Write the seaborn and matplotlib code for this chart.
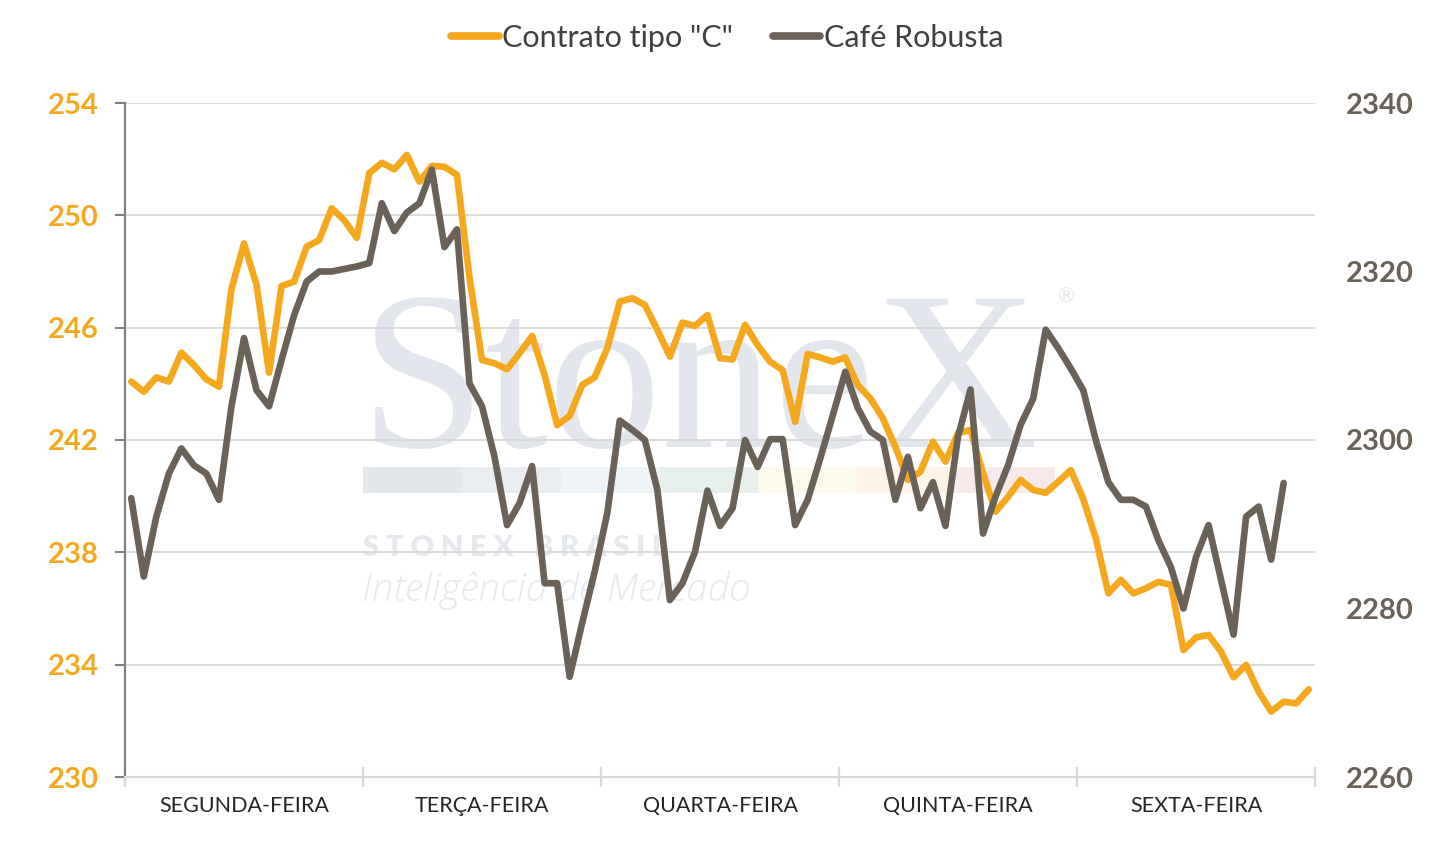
import numpy as np
import pandas as pd
import seaborn as sns
import matplotlib
matplotlib.use("Agg")
import matplotlib.pyplot as plt
from matplotlib.patches import Rectangle
from matplotlib.lines import Line2D

# ---------------- data ----------------
days = ["SEGUNDA-FEIRA", "TERÇA-FEIRA", "QUARTA-FEIRA", "QUINTA-FEIRA", "SEXTA-FEIRA"]
points_per_day = 19

contrato_c = [
    244.08, 243.72, 244.23, 244.08, 245.11, 244.67, 244.16, 243.90, 247.37, 249.00,
    247.52, 244.40, 247.48, 247.64, 248.88, 249.12, 250.25, 249.83, 249.20,
    251.50, 251.87, 251.64, 252.15, 251.20, 251.76, 251.73, 251.44, 247.80, 244.85,
    244.73, 244.52, 245.09, 245.70, 244.31, 242.53, 242.86, 243.96, 244.23,
    245.27, 246.93, 247.05, 246.81, 245.92, 244.97, 246.18, 246.06, 246.45, 244.91,
    244.87, 246.10, 245.38, 244.79, 244.49, 242.65, 245.06, 244.94, 244.79,
    244.94, 243.96, 243.48, 242.77, 241.76, 240.58, 240.87, 241.94, 241.23, 242.24,
    242.36, 240.81, 239.45, 239.98, 240.58, 240.22, 240.12, 240.51, 240.93,
    239.90, 238.50, 236.54, 237.02, 236.54, 236.72, 236.95, 236.84, 234.52, 234.97,
    235.06, 234.46, 233.55, 233.99, 233.04, 232.33, 232.68, 232.62, 233.12,
]

cafe_robusta = [
    2293.1, 2283.8, 2290.9, 2296.0, 2299.0, 2297.0, 2296.0, 2292.9, 2304.0, 2312.1,
    2305.9, 2304.0, 2309.5, 2314.8, 2318.8, 2320.0, 2320.0, 2320.3, 2320.6,
    2321.0, 2328.1, 2324.8, 2327.0, 2328.1, 2332.1, 2322.9, 2325.0, 2306.7, 2304.0,
    2298.0, 2289.9, 2292.5, 2296.9, 2283.0, 2283.0, 2271.9, 2278.3, 2284.4,
    2291.3, 2302.3, 2301.2, 2300.0, 2294.1, 2281.0, 2283.0, 2286.7, 2294.0, 2289.8,
    2291.9, 2300.0, 2296.8, 2300.1, 2300.1, 2289.9, 2292.9, 2297.8, 2302.9,
    2308.1, 2303.8, 2301.0, 2300.0, 2292.9, 2298.0, 2291.9, 2295.0, 2289.8, 2300.4,
    2306.0, 2288.9, 2293.3, 2297.0, 2301.8, 2304.9, 2313.1, 2310.9, 2308.5,
    2305.9, 2300.0, 2295.0, 2292.9, 2292.9, 2292.1, 2288.1, 2284.9, 2280.0, 2286.1,
    2289.9, 2283.4, 2276.9, 2290.9, 2292.1, 2285.8, 2294.9,
]

left_ticks = [230, 234, 238, 242, 246, 250, 254]
right_ticks = [2260, 2280, 2300, 2320, 2340]
series_names = ['Contrato tipo "C"', "Café Robusta"]

# ---------------- style ----------------
ORANGE = "#F5A81E"
GRAY = "#6A6258"
GRID = "#D9D9D9"

sns.set_theme(style="white")
plt.rcParams["font.family"] = ["Lato", "DejaVu Sans"]

df_c = pd.DataFrame({"idx": np.arange(len(contrato_c)), "val": contrato_c})
df_r = pd.DataFrame({"idx": np.arange(len(cafe_robusta)), "val": cafe_robusta})

W, H = 1455, 842
fig = plt.figure(figsize=(W / 100, H / 100), dpi=100)
ax1 = fig.add_axes([125 / W, 1 - 777 / H, (1315 - 125) / W, (777 - 103) / H])
ax2 = ax1.twinx()
ax1.patch.set_alpha(0)

# ---------------- watermark (decoration) ----------------
wm = "#E3E7ED"
fig.text(360 / W, 1 - 447 / H, "StoneX", family=["Liberation Serif"], fontsize=163,
         color=wm, zorder=-5, ha="left", va="baseline")
fig.text(1055 / W, 1 - 296 / H, "®", family=["DejaVu Sans"], fontsize=15,
         color=wm, zorder=-5, ha="left", va="center")
bar_cols = ["#E4E8ED", "#E9EDF1", "#EEF3F8", "#E7EFEA", "#FBF9EC", "#FDF4E7", "#F7E9E9"]
seg_w = (1055 - 363) / len(bar_cols)
for k, c in enumerate(bar_cols):
    fig.add_artist(Rectangle(((363 + k * seg_w) / W, 1 - 493 / H), seg_w / W, 26 / H,
                             transform=fig.transFigure, facecolor=c, edgecolor="none",
                             zorder=-5))
fig.text(363 / W, 1 - 548 / H, "S T O N E X   B R A S I L", fontsize=21, fontweight="heavy",
         color="#E5E8ED", zorder=-5, ha="left", va="center")
fig.text(362 / W, 1 - 590 / H, "Inteligência de Mercado", family=["Open Sans", "DejaVu Sans"],
         fontsize=28, style="italic", fontweight="light", color="#E6E9EE", zorder=-5,
         ha="left", va="center")

# ---------------- lines ----------------
sns.lineplot(data=df_c, x="idx", y="val", ax=ax1, color=ORANGE, linewidth=4.8,
             solid_joinstyle="round", solid_capstyle="round", zorder=3)
sns.lineplot(data=df_r, x="idx", y="val", ax=ax2, color=GRAY, linewidth=4.8,
             solid_joinstyle="round", solid_capstyle="round", zorder=3)

n_total = points_per_day * len(days)
ax1.set_xlim(-0.5, n_total - 0.5)
ax1.set_ylim(left_ticks[0], left_ticks[-1])
ax2.set_ylim(right_ticks[0], right_ticks[-1])

# x axis: boundaries as major ticks, day names at minor ticks
bounds = [-0.5 + points_per_day * k for k in range(len(days) + 1)]
centers = [points_per_day * k + (points_per_day - 1) / 2 for k in range(len(days))]
ax1.set_xticks(bounds)
ax1.set_xticklabels([""] * len(bounds))
ax1.set_xticks(centers, minor=True)
ax1.set_xticklabels(days, minor=True)
ax1.tick_params(axis="x", which="major", direction="inout", length=14, width=1.6,
                color=GRID, bottom=True)
ax1.tick_params(axis="x", which="minor", length=0, pad=14, labelsize=15.5,
                labelcolor="#262626", bottom=True)

# left y
ax1.set_yticks(left_ticks)
ax1.set_yticklabels([str(t) for t in left_ticks])
ax1.tick_params(axis="y", which="major", direction="out", length=7, width=1.5,
                color="#808080", pad=12, labelsize=21, labelcolor=ORANGE, left=True)
for lab in ax1.get_yticklabels():
    lab.set_fontweight("bold")
ax1.yaxis.grid(True, color=GRID, linewidth=1.3)
ax1.xaxis.grid(False)
ax1.set_axisbelow(True)

# right y
ax2.set_yticks(right_ticks)
ax2.set_yticklabels([str(t) for t in right_ticks])
ax2.tick_params(axis="y", length=0, pad=22, labelsize=21, labelcolor=GRAY, right=True)
for lab in ax2.get_yticklabels():
    lab.set_fontweight("bold")
ax2.grid(False)

for ax in (ax1, ax2):
    ax.set_xlabel("")
    ax.set_ylabel("")
    for s in ("top", "right", "left", "bottom"):
        ax.spines[s].set_visible(False)
ax1.spines["left"].set_visible(True)
ax1.spines["left"].set_color("#808080")
ax1.spines["left"].set_linewidth(1.6)
ax1.spines["bottom"].set_visible(True)
ax1.spines["bottom"].set_color(GRID)
ax1.spines["bottom"].set_linewidth(1.6)

# legend
handles = [Line2D([0], [0], color=ORANGE, lw=5.5, solid_capstyle="round"),
           Line2D([0], [0], color=GRAY, lw=5.5, solid_capstyle="round")]
fig.legend(handles, series_names, loc="center", bbox_to_anchor=(0.5, 1 - 38 / H),
           ncol=2, frameon=False, fontsize=22, handlelength=1.55, handletextpad=0.12,
           columnspacing=1.3, labelcolor="#404040")

fig.savefig("out.png", dpi=100)
